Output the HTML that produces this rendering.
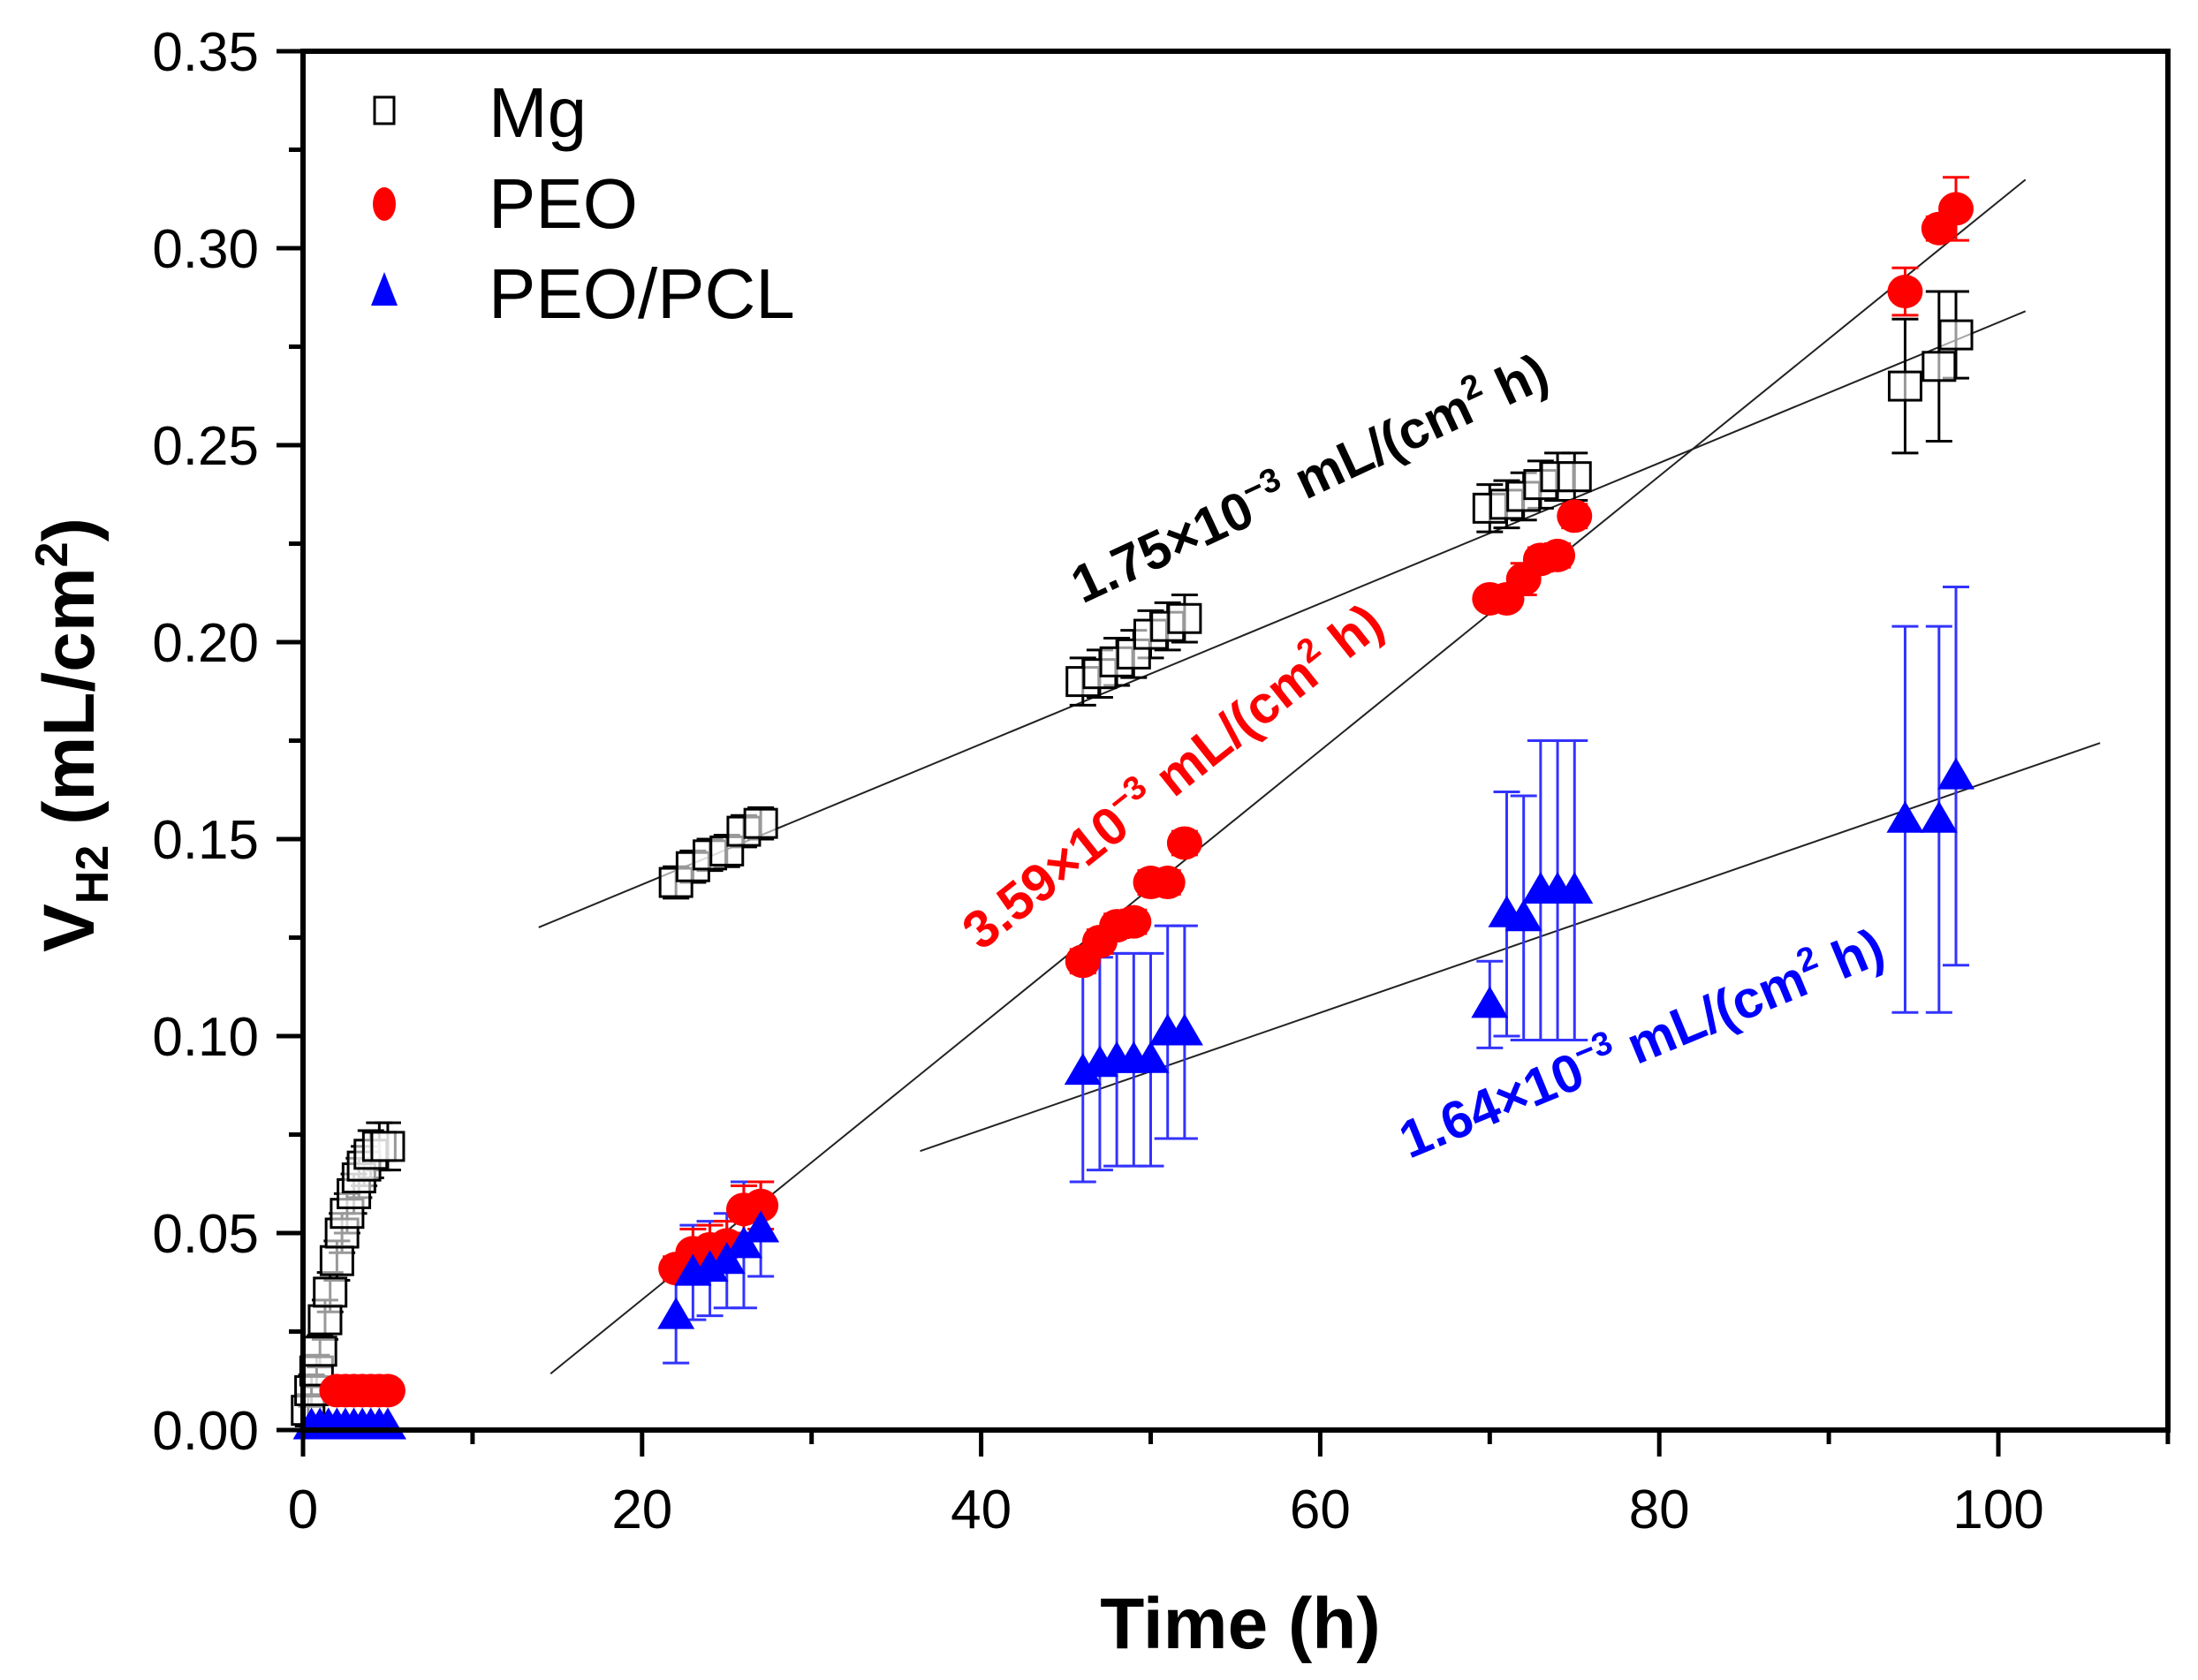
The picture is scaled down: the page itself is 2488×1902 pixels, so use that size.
<!DOCTYPE html>
<html><head><meta charset="utf-8"><style>
html,body{margin:0;padding:0;background:#fff;}
svg{display:block;font-family:"Liberation Sans",Arial,sans-serif;}
</style></head><body>
<svg id="chart" width="2488" height="1902" viewBox="0 0 2488 1902" xmlns="http://www.w3.org/2000/svg">
<g id="fits"></g>
<g id="marks"></g>
<g id="axes"></g>
<text x="1404" y="1866" font-size="82" font-weight="bold" text-anchor="middle">Time (h)</text>
<text transform="translate(106,832) rotate(-90)" font-size="82" font-weight="bold" text-anchor="middle">V<tspan font-size="52" dy="16">H2</tspan><tspan dy="-16"> (mL/cm</tspan><tspan font-size="52" dy="-30">2</tspan><tspan dy="30">)</tspan></text>
<text transform="translate(1491,560) rotate(-25)" font-size="60" font-weight="bold" text-anchor="middle" fill="#000">1.75×10<tspan font-size="38" dy="-24">−3</tspan><tspan dy="24"> mL/(cm</tspan><tspan font-size="38" dy="-24">2</tspan><tspan dy="24"> h)</tspan></text>
<text transform="translate(1340,895) rotate(-38.5)" font-size="60" font-weight="bold" text-anchor="middle" fill="#ff0000">3.59×10<tspan font-size="38" dy="-24">−3</tspan><tspan dy="24"> mL/(cm</tspan><tspan font-size="38" dy="-24">2</tspan><tspan dy="24"> h)</tspan></text>
<text transform="translate(1866,1200) rotate(-22.5)" font-size="60" font-weight="bold" text-anchor="middle" fill="#0000ff">1.64×10<tspan font-size="38" dy="-24">−3</tspan><tspan dy="24"> mL/(cm</tspan><tspan font-size="38" dy="-24">2</tspan><tspan dy="24"> h)</tspan></text>
<g>
<rect x="424" y="110" width="22" height="30" fill="#fff" stroke="#000" stroke-width="3"/>
<text x="553" y="155" font-size="80">Mg</text>
<ellipse cx="435" cy="231" rx="13" ry="19" fill="#ff0000"/>
<text x="553" y="258" font-size="80">PEO</text>
<polygon points="435,308 420,346 450,346" fill="#0000ff"/>
<text x="553" y="360" font-size="80">PEO/PCL</text>
</g>
</svg>
<script>
const mgT=[0.3,0.5,0.8,1,1.3,1.6,2,2.3,2.6,3,3.3,3.6,4,4.5,5,22,23,24,25,26,27,46,47,48,49,50,51,52,70,71,72,73,74,75,94.5,96.5,97.5];
const mgV=[0.005,0.01,0.015,0.02,0.028,0.035,0.043,0.05,0.055,0.06,0.064,0.067,0.07,0.072,0.072,0.139,0.143,0.146,0.147,0.152,0.154,0.190,0.192,0.195,0.197,0.202,0.204,0.206,0.234,0.235,0.237,0.240,0.242,0.242,0.265,0.270,0.278];
const mgE=[0.004,0.004,0.004,0.004,0.005,0.005,0.005,0.005,0.005,0.005,0.005,0.005,0.006,0.006,0.006,0.004,0.004,0.004,0.004,0.004,0.004,0.006,0.006,0.006,0.006,0.006,0.006,0.006,0.006,0.006,0.006,0.006,0.006,0.006,0.017,0.019,0.011];
const peoT=[2,2.5,3,3.5,4,4.5,5,22,23,24,25,26,27,46,47,48,49,50,51,52,70,71,72,73,74,75,94.5,96.5,97.5];
const peoV=[0.01,0.01,0.01,0.01,0.01,0.01,0.01,0.041,0.045,0.046,0.047,0.056,0.057,0.119,0.124,0.128,0.129,0.139,0.139,0.149,0.211,0.211,0.216,0.221,0.222,0.232,0.289,0.305,0.310];
const peoE=[0.001,0.001,0.001,0.001,0.001,0.001,0.001,0.003,0.006,0.006,0.006,0.006,0.006,0.003,0.003,0.003,0.003,0.003,0.003,0.003,0.002,0.002,0.004,0.003,0.003,0.003,0.006,0.003,0.008];
const pclT=[0.5,1,1.5,2,2.5,3,3.5,4,4.5,5,22,23,24,25,26,27,46,47,48,49,50,51,52,70,71,72,73,74,75,94.5,96.5,97.5];
const pclV=[0.001,0.001,0.001,0.001,0.001,0.001,0.001,0.001,0.001,0.001,0.029,0.040,0.041,0.043,0.047,0.051,0.091,0.093,0.094,0.094,0.094,0.101,0.101,0.108,0.131,0.130,0.137,0.137,0.137,0.155,0.155,0.166];
const pclE=[0,0,0,0,0,0,0,0,0,0,0.012,0.012,0.012,0.012,0.016,0.012,0.028,0.027,0.027,0.027,0.027,0.027,0.027,0.011,0.031,0.031,0.038,0.038,0.038,0.049,0.049,0.048];
const fitX0=[13.9,14.6,36.4];
const fitX1=[101.6,101.6,106];
const fitY0=[0.1276,0.0143,0.0708];
const fitY1=[0.284,0.3174,0.1744];
const xTicks=[0,20,40,60,80,100];
const yTicks=["0.00","0.05","0.10","0.15","0.20","0.25","0.30","0.35"];

const NS="http://www.w3.org/2000/svg";
const X0=343,XS=19.19,Y0=1619,YS=4460;
function sx(t){return X0+t*XS;}
function sy(v){return Y0-v*YS;}
function mk(tag,attrs,parent){const e=document.createElementNS(NS,tag);for(const k in attrs)e.setAttribute(k,attrs[k]);parent.appendChild(e);return e;}

const fits=document.getElementById('fits');
const fitNames=['mg-fit-line','peo-fit-line','peo-pcl-fit-line'];
for(let i=0;i<3;i++){
  const l=mk('line',{x1:sx(fitX0[i]),y1:sy(fitY0[i]),x2:sx(fitX1[i]),y2:sy(fitY1[i]),stroke:'#222','stroke-width':2},fits);
  
  
}

const marks=document.getElementById('marks');
function errbar(t,v,e,color,name){
  if(e<=0)return;
  const g=mk('g',{stroke:color,'stroke-width':3},marks);
  
  
  const x=sx(t);
  mk('line',{x1:x,y1:sy(v-e),x2:x,y2:sy(v+e)},g);
  mk('line',{x1:x-15,y1:sy(v-e),x2:x+15,y2:sy(v-e)},g);
  mk('line',{x1:x-15,y1:sy(v+e),x2:x+15,y2:sy(v+e)},g);
}
for(let i=0;i<pclT.length;i++) errbar(pclT[i],pclV[i],pclE[i],'#3333ff','peo-pcl-error-bar');
for(let i=0;i<mgT.length;i++) errbar(mgT[i],mgV[i],mgE[i],'#000','mg-error-bar');
for(let i=0;i<peoT.length;i++) errbar(peoT[i],peoV[i],peoE[i],'#ff0000','peo-error-bar');
for(let i=0;i<mgT.length;i++){
  const r=mk('rect',{x:sx(mgT[i])-18,y:sy(mgV[i])-16,width:36,height:32,fill:'#fff','fill-opacity':0.6,stroke:'#000','stroke-width':3},marks);
  
  
}
for(let i=0;i<peoT.length;i++){
  const c=mk('ellipse',{cx:sx(peoT[i]),cy:sy(peoV[i]),rx:20,ry:19,fill:'#ff0000'},marks);
  
  
}
for(let i=0;i<pclT.length;i++){
  const x=sx(pclT[i]),y=sy(pclV[i]);
  const p=mk('polygon',{points:`${x},${y-21} ${x-21},${y+15} ${x+21},${y+15}`,fill:'#0000ff'},marks);
  
  
}

const axes=document.getElementById('axes');
const frame=mk('rect',{x:X0,y:sy(0.35),width:sx(110)-X0,height:Y0-sy(0.35),fill:'none',stroke:'#000','stroke-width':6},axes);


for(let t=0;t<=110;t+=10){
  const major=t%20===0;
  const l=mk('line',{x1:sx(t),y1:Y0,x2:sx(t),y2:Y0+(major?30:16),stroke:'#000','stroke-width':5},axes);
  
  
}
for(let i=0;i<xTicks.length;i++){
  const tx=mk('text',{x:sx(xTicks[i]),y:1730,'font-size':62,'text-anchor':'middle'},axes);
  tx.textContent=xTicks[i];
  
  
}
for(let k=0;k<=14;k++){
  const v=k*0.025,major=k%2===0;
  const l=mk('line',{x1:X0,y1:sy(v),x2:X0-(major?30:16),y2:sy(v),stroke:'#000','stroke-width':5},axes);
  
  
}
for(let i=0;i<yTicks.length;i++){
  const tx=mk('text',{x:293,y:sy(parseFloat(yTicks[i]))+22,'font-size':62,'text-anchor':'end'},axes);
  tx.textContent=yTicks[i];
  
  
}
</script>
</body></html>
